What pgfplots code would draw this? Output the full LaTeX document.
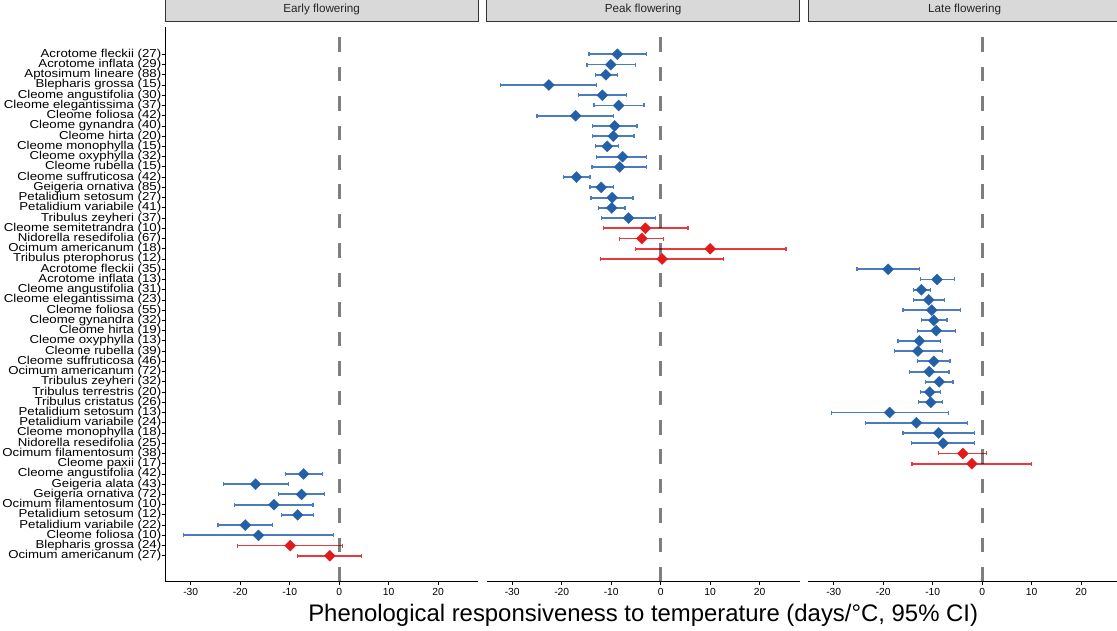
\documentclass[border=0pt]{standalone}
\usepackage{fontspec}
\setmainfont{Liberation Sans}
\newfontfamily\labfont[FakeStretch=1.15]{Liberation Sans}
\usepackage{pgfplots}
\pgfplotsset{compat=1.18}
\usepackage{pgfplotstable}

\definecolor{dblue}{HTML}{2460A7}
\definecolor{eblue}{HTML}{4A7CBF}
\definecolor{dred}{HTML}{E31A1C}
\definecolor{ered}{HTML}{E8393D}
\definecolor{stripfill}{HTML}{D9D9D9}
\definecolor{stripdraw}{HTML}{333333}

% rows: 1 = top row
\pgfplotstableread{
y x lo hi
1 -8.75 -14.5 -2.8
2 -10.1 -14.9 -5.1
3 -11.1 -13.1 -8.8
4 -22.6 -32.4 -12.9
5 -11.8 -16.6 -6.9
6 -8.5 -13.5 -3.4
7 -17.2 -25.0 -9.6
8 -9.3 -13.8 -4.8
9 -9.6 -13.8 -5.4
10 -10.8 -13.1 -8.6
11 -7.7 -12.9 -2.8
12 -8.3 -13.9 -2.8
13 -17.0 -19.7 -14.3
14 -12.0 -14.3 -9.6
15 -9.8 -14.1 -5.6
16 -9.9 -12.5 -7.2
17 -6.5 -11.9 -1.1
}\peakblue
\pgfplotstableread{
y x lo hi
18 -3.1 -11.6 5.5
19 -3.8 -8.3 0.5
20 10.0 -5.1 25.3
21 0.3 -12.1 12.7
}\peakred
\pgfplotstableread{
y x lo hi
22 -19.0 -25.3 -12.7
23 -9.1 -12.5 -5.6
24 -12.3 -13.9 -10.5
25 -10.8 -13.9 -7.6
26 -10.2 -16.0 -4.4
27 -9.8 -12.3 -7.1
28 -9.3 -13.1 -5.4
29 -12.7 -17.0 -8.4
30 -13.0 -17.8 -8.0
31 -9.8 -13.1 -6.5
32 -10.7 -14.7 -6.7
33 -8.7 -11.5 -5.9
34 -10.6 -12.5 -8.5
35 -10.4 -12.8 -8.0
36 -18.7 -30.4 -6.8
37 -13.3 -23.6 -2.9
38 -8.8 -16.0 -1.6
39 -7.9 -14.3 -1.6
}\lateblue
\pgfplotstableread{
y x lo hi
40 -3.9 -8.8 0.9
41 -2.1 -14.2 10.0
}\latered
\pgfplotstableread{
y x lo hi
42 -7.2 -10.9 -3.4
43 -16.9 -23.4 -10.3
44 -7.6 -12.2 -3.0
45 -13.2 -21.2 -5.3
46 -8.4 -11.6 -5.2
47 -19.0 -24.5 -13.4
48 -16.3 -31.4 -1.1
}\earlyblue
\pgfplotstableread{
y x lo hi
49 -9.9 -20.5 0.6
50 -1.9 -8.4 4.5
}\earlyred

\pgfplotsset{
  panel/.style={
    scale only axis, width=313.3pt, height=554.7pt,
    xmin=-35.2, xmax=28.1, ymin=-52.53, ymax=1.667,
    axis x line*=bottom,
    xtick={-30,-20,-10,0,10,20}, xticklabels={-30,-20,-10,0,10,20},
    tick align=outside, major tick length=3.3pt,
    every tick/.style={black, line width=0.8pt},
    axis line style={black, line width=0.8pt},
    xticklabel style={font=\fontsize{10.3}{10.5}\selectfont, text=black},
    clip=false,
    title style={at={(axis description cs:0.5,1)}, anchor=south,
      minimum width=313.3pt, minimum height=23.4pt, inner sep=0pt, outer sep=0pt,
      fill=stripfill, draw=stripdraw, line width=0.9pt,
      font=\fontsize{11.7}{12}\selectfont, text=black!85, yshift=-0.5pt},
  },
  bluepts/.style={only marks, mark=square*, mark size=3.9pt,
    mark options={rotate=45, fill=dblue, draw=dblue, line width=0.3pt},
    error bars/.cd, x dir=both, x explicit, error mark=|,
    error bar style={line width=1.9pt, color=eblue, solid},
    error mark options={line width=1.2pt, mark size=2pt, color=eblue}},
  redpts/.style={only marks, mark=square*, mark size=3.9pt,
    mark options={rotate=45, fill=dred, draw=dred, line width=0.3pt},
    error bars/.cd, x dir=both, x explicit, error mark=|,
    error bar style={line width=1.7pt, color=ered, solid},
    error mark options={line width=1.2pt, mark size=2pt, color=ered}},
  vline/.style={black, opacity=0.5, line width=3.3pt, dash pattern=on 14.5pt off 14.94pt},
}

\newcommand{\pts}[2]{%
  \addplot[#1] table[x=x, y expr=-\thisrow{y},
    x error plus expr=\thisrow{hi}-\thisrow{x},
    x error minus expr=\thisrow{x}-\thisrow{lo}] {#2};}

\begin{document}
\begin{tikzpicture}
% Early
\begin{axis}[panel, at={(165pt,-581.7pt)}, anchor=south west,
  title={Early flowering},
  axis y line*=left,
  ytick={-1,-2,...,-50},
  yticklabel style={font=\labfont\fontsize{11.5}{11.5}\selectfont, text=black, inner xsep=0.3pt, inner ysep=0.5pt},
  yticklabels={Acrotome fleckii (27),Acrotome inflata (29),Aptosimum lineare (88),Blepharis grossa (15),Cleome angustifolia (30),Cleome elegantissima (37),Cleome foliosa (42),Cleome gynandra (40),Cleome hirta (20),Cleome monophylla (15),Cleome oxyphylla (32),Cleome rubella (15),Cleome suffruticosa (42),Geigeria ornativa (85),Petalidium setosum (27),Petalidium variabile (41),Tribulus zeyheri (37),Cleome semitetrandra (10),Nidorella resedifolia (67),Ocimum americanum (18),Tribulus pterophorus (12),Acrotome fleckii (35),Acrotome inflata (13),Cleome angustifolia (31),Cleome elegantissima (23),Cleome foliosa (55),Cleome gynandra (32),Cleome hirta (19),Cleome oxyphylla (13),Cleome rubella (39),Cleome suffruticosa (46),Ocimum americanum (72),Tribulus zeyheri (32),Tribulus terrestris (20),Tribulus cristatus (26),Petalidium setosum (13),Petalidium variabile (24),Cleome monophylla (18),Nidorella resedifolia (25),Ocimum filamentosum (38),Cleome paxii (17),Cleome angustifolia (42),Geigeria alata (43),Geigeria ornativa (72),Ocimum filamentosum (10),Petalidium setosum (12),Petalidium variabile (22),Cleome foliosa (10),Blepharis grossa (24),Ocimum americanum (27)},
]
\pts{bluepts}{\earlyblue}
\pts{redpts}{\earlyred}
\addplot[vline] coordinates {(0,-52.53) (0,1.667)};
\end{axis}
% Peak
\begin{axis}[panel, at={(486.5pt,-581.7pt)}, anchor=south west,
  title={Peak flowering}, axis y line=none]
\pts{bluepts}{\peakblue}
\pts{redpts}{\peakred}
\addplot[vline] coordinates {(0,-52.53) (0,1.667)};
\end{axis}
% Late
\begin{axis}[panel, at={(808pt,-581.7pt)}, anchor=south west,
  title={Late flowering}, axis y line=none]
\pts{bluepts}{\lateblue}
\pts{redpts}{\latered}
\addplot[vline] coordinates {(0,-52.53) (0,1.667)};
\end{axis}
\node[font=\fontsize{23.9}{24}\selectfont, anchor=base, text=black] at (643.2pt,-621.5pt)
  {Phenological responsiveness to temperature (days/°C, 95\% CI)};
\pgfresetboundingbox
\useasboundingbox (0pt,0pt) rectangle (1117pt,-630pt);
\end{tikzpicture}
\end{document}
